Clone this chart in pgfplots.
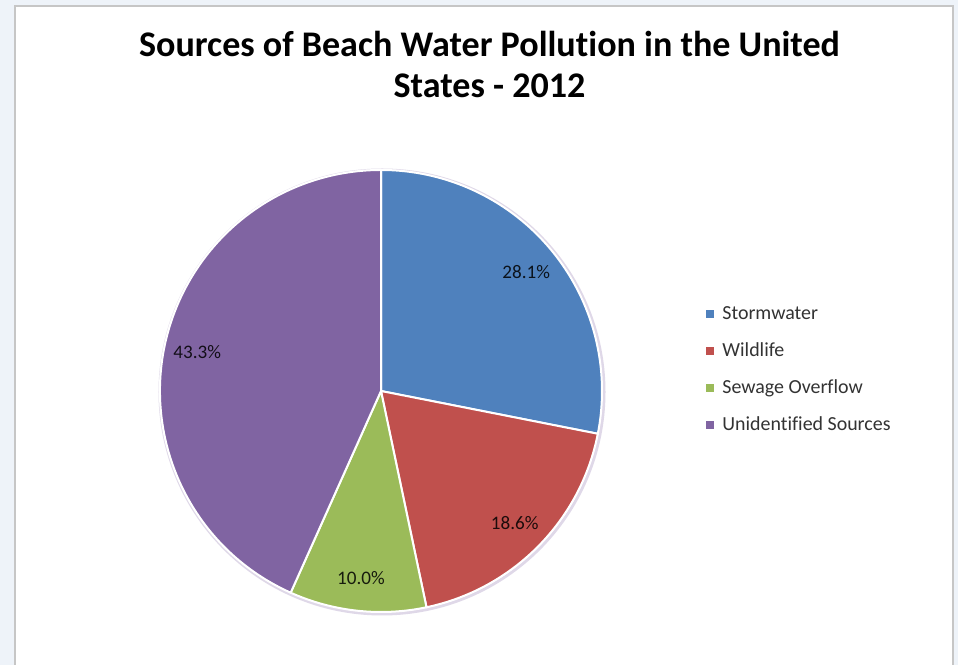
\documentclass[border=0pt]{standalone}
\usepackage{pgfplots}
\pgfplotsset{compat=1.18}
\usepackage{pgfplotstable}
\usepackage{fontspec}
\setmainfont{Carlito}[Ligatures=NoCommon]

\definecolor{storm}{HTML}{4F81BD}
\definecolor{wild}{HTML}{C0504D}
\definecolor{sewage}{HTML}{9BBB59}
\definecolor{unid}{HTML}{8064A2}
\definecolor{framegray}{HTML}{C6C6C6}
\definecolor{pageblue}{HTML}{EEF3F9}

\pgfkeys{/pgf/number format/assume math mode=true}

\newcommand\titlefont{\fontsize{18.1}{20.5}\selectfont\bfseries}
\newcommand\labelfont{\fontsize{9.6}{11}\selectfont}
\newcommand\legendfont{\fontsize{10}{12}\selectfont}

% share of beach-water pollution by source (percent)
\pgfplotstableread[col sep=comma]{
source,share,tint
Stormwater,28.1,storm
Wildlife,18.6,wild
Sewage Overflow,10.0,sewage
Unidentified Sources,43.3,unid
}\pollution

\begin{document}
\begin{tikzpicture}
\begin{axis}[
  x=0.5bp, y=0.5bp,
  xmin=0, xmax=958, ymin=0, ymax=665,
  hide axis, clip=false,
]
  % page background and chart frame
  \fill[pageblue] (axis cs:0,0) rectangle (axis cs:958,665);
  \fill[white] (axis cs:15,0) rectangle (axis cs:953,659);
  \draw[framegray, line width=1bp] (axis cs:15,0) -- (axis cs:15,659) -- (axis cs:953,659) -- (axis cs:953,0);

  % title
  \node[anchor=base, inner sep=0, font=\titlefont] at (axis cs:489.5,608) {Sources of Beach Water Pollution in the United};
  \node[anchor=base, inner sep=0, font=\titlefont] at (axis cs:489.5,567) {States - 2012};

  % soft rim under the pie
  \draw[color=unid!25, line width=1.5bp] (axis cs:382,273) circle[radius=111bp];

  % wedges, clockwise from twelve o'clock, with value labels and legend
  \pgfmathsetmacro\cum{0}
  \pgfplotsforeachungrouped \i in {0,...,3}{%
    \pgfplotstablegetelem{\i}{share}\of\pollution \let\val\pgfplotsretval
    \pgfplotstablegetelem{\i}{tint}\of\pollution \let\col\pgfplotsretval
    \pgfplotstablegetelem{\i}{source}\of\pollution \let\name\pgfplotsretval
    \pgfmathsetmacro\a{90-3.6*\cum}
    \pgfmathsetmacro\b{90-3.6*(\cum+\val)}
    \pgfmathsetmacro\m{(\a+\b)/2}
    \pgfmathsetmacro\lx{381+188*cos(\m)}
    \pgfmathsetmacro\ly{274+188*sin(\m)}
    \pgfmathsetmacro\ky{350.5-36.7*\i}
    \pgfmathsetmacro\ty{\ky-5.5}
    \edef\temp{%
      \noexpand\fill[\col, draw=white, line width=1bp] (axis cs:381,274) -- ++(\a:110.5bp)
        arc[start angle=\a, end angle=\b, radius=110.5bp] -- cycle;
      \noexpand\node[font=\noexpand\labelfont, text=black, text opacity=0.85, inner sep=0]
        at (axis cs:\lx,\ly) {\noexpand\pgfmathprintnumber[fixed,fixed zerofill,precision=1]{\val}\noexpand\%};
      \noexpand\node[fill=\col, minimum size=4bp, inner sep=0] at (axis cs:709.5,\ky) {};
      \noexpand\node[anchor=base west, inner sep=0, font=\noexpand\legendfont, text=black!80]
        at (axis cs:722,\ty) {\name};
    }%
    \temp
    \pgfmathsetmacro\cum{\cum+\val}
  }
\end{axis}
\end{tikzpicture}
\end{document}
